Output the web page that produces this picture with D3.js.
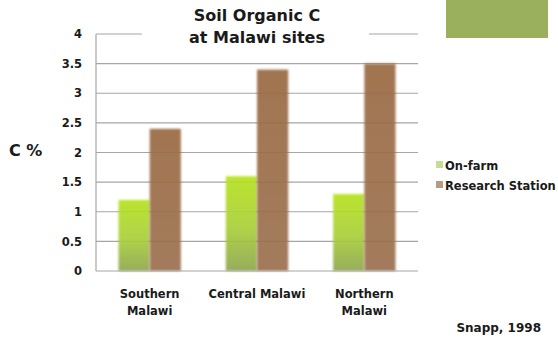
<!DOCTYPE html>
<html>
<head>
<meta charset="utf-8">
<script src="https://cdn.jsdelivr.net/npm/d3@7"></script>
<style>
  html, body { margin: 0; padding: 0; background: #fff; }
  svg { display: block; }
  text { font-family: "DejaVu Sans", sans-serif; font-weight: bold; fill: #1a1a1a; }
</style>
</head>
<body>
<svg id="chart" width="558" height="341"></svg>
<script>
// Soil organic carbon (%) by region
const regions = ["Southern Malawi", "Central Malawi", "Northern Malawi"];
const regionLines = [["Southern", "Malawi"], ["Central Malawi"], ["Northern", "Malawi"]];
const seriesNames = ["On-farm", "Research Station"];
const onFarm = [1.2, 1.6, 1.3];
const researchStation = [2.4, 3.4, 3.5];
const yTicks = [0, 0.5, 1, 1.5, 2, 2.5, 3, 3.5, 4];
const yTickLabels = ["0", "0.5", "1", "1.5", "2", "2.5", "3", "3.5", "4"];

const svg = d3.select("#chart");
const margin = { left: 96, right: 140, top: 34, bottom: 70 };
const W = 558, H = 341;

const x0 = d3.scaleBand().domain(regions).range([margin.left, W - margin.right]).paddingInner(0).paddingOuter(0);
const x1 = d3.scaleBand().domain(seriesNames).range([0, x0.bandwidth()]).paddingInner(0).paddingOuter(0.72);
const y = d3.scaleLinear().domain([0, 4]).range([H - margin.bottom, margin.top]);

const defs = svg.append("defs");
const gGreen = defs.append("linearGradient").attr("id", "gGreen").attr("x1", 0).attr("y1", 0).attr("x2", 0).attr("y2", 1);
gGreen.append("stop").attr("offset", "0%").attr("stop-color", "#b6e21e");
gGreen.append("stop").attr("offset", "55%").attr("stop-color", "#a9cf3a");
gGreen.append("stop").attr("offset", "100%").attr("stop-color", "#8fa64e");
const gBrown = defs.append("linearGradient").attr("id", "gBrown").attr("x1", 0).attr("y1", 0).attr("x2", 0).attr("y2", 1);
gBrown.append("stop").attr("offset", "0%").attr("stop-color", "#9a6b42");
gBrown.append("stop").attr("offset", "100%").attr("stop-color", "#9c7050");
defs.append("filter").attr("id", "soft").attr("x", "-20%").attr("y", "-5%").attr("width", "140%").attr("height", "110%")
  .append("feGaussianBlur").attr("stdDeviation", 0.9);

// decorative block, top right
svg.append("rect").attr("x", 446).attr("y", 0).attr("width", 102).attr("height", 38).attr("fill", "#9bb05c");

// gridlines
svg.append("g").selectAll("line").data(yTicks.filter(d => d > 0)).join("line")
  .attr("x1", margin.left).attr("x2", W - margin.right)
  .attr("y1", d => y(d)).attr("y2", d => y(d))
  .attr("stroke", "#a6a6a6").attr("stroke-width", 1.2);

// bars
const colors = { "On-farm": "url(#gGreen)", "Research Station": "url(#gBrown)" };
const rows = regions.map((r, i) => ({ region: r, vals: [
  { key: "On-farm", v: onFarm[i] }, { key: "Research Station", v: researchStation[i] }] }));
svg.append("g").selectAll("g").data(rows).join("g")
  .attr("transform", d => `translate(${x0(d.region)},0)`)
  .selectAll("rect").data(d => d.vals).join("rect")
  .attr("x", d => x1(d.key)).attr("width", x1.bandwidth())
  .attr("y", d => y(d.v)).attr("height", d => y(0) - y(d.v))
  .attr("fill", d => colors[d.key]).attr("opacity", 0.92)
  .attr("filter", "url(#soft)");

// axes lines
svg.append("line").attr("x1", margin.left).attr("x2", margin.left).attr("y1", y(4)).attr("y2", y(0))
  .attr("stroke", "#a6a6a6").attr("stroke-width", 1.2);
svg.append("line").attr("x1", margin.left).attr("x2", W - margin.right).attr("y1", y(0)).attr("y2", y(0))
  .attr("stroke", "#a6a6a6").attr("stroke-width", 1.2);

// y tick labels
const yAxis = d3.axisLeft(y).tickValues(yTicks).tickFormat((d, i) => yTickLabels[i]).tickSize(0).tickPadding(14);
const ya = svg.append("g").attr("transform", `translate(${margin.left},0)`).call(yAxis);
ya.select(".domain").remove();
ya.selectAll("text").attr("font-size", 11.5).attr("font-family", "'DejaVu Sans', sans-serif").attr("font-weight", "bold").attr("fill", "#1a1a1a");

// x category labels
const xl = svg.append("g").selectAll("text").data(regions).join("text")
  .attr("x", d => x0(d) + x0.bandwidth() / 2).attr("y", 298)
  .attr("text-anchor", "middle").attr("font-size", 11.5);
xl.each(function(d, i) {
  d3.select(this).selectAll("tspan").data(regionLines[i]).join("tspan")
    .attr("x", x0(d) + x0.bandwidth() / 2).attr("dy", (t, j) => j === 0 ? 0 : 17).text(t => t);
});

// title with white backing over the top gridline
svg.append("rect").attr("x", 142).attr("y", 4).attr("width", 227).attr("height", 44).attr("fill", "#fff");
svg.append("text").attr("x", 257).attr("y", 21).attr("text-anchor", "middle").attr("font-size", 16).text("Soil Organic C");
svg.append("text").attr("x", 257).attr("y", 43).attr("text-anchor", "middle").attr("font-size", 16).text("at Malawi sites");

// y axis title
svg.append("text").attr("x", 9).attr("y", 156).attr("font-size", 16).text("C %");

// legend
const legColors = ["#c6dd96", "#b79c83"];
const leg = svg.append("g").selectAll("g").data(seriesNames).join("g")
  .attr("transform", (d, i) => `translate(436,${165 + i * 20})`);
leg.append("rect").attr("x", 0).attr("y", -4).attr("width", 7).attr("height", 7).attr("fill", (d, i) => legColors[i]);
leg.append("text").attr("x", 9).attr("y", 4.5).attr("font-size", 11.5).text(d => d);

// source note
svg.append("text").attr("x", 541).attr("y", 332).attr("text-anchor", "end").attr("font-size", 12).text("Snapp, 1998");
</script>
</body>
</html>
